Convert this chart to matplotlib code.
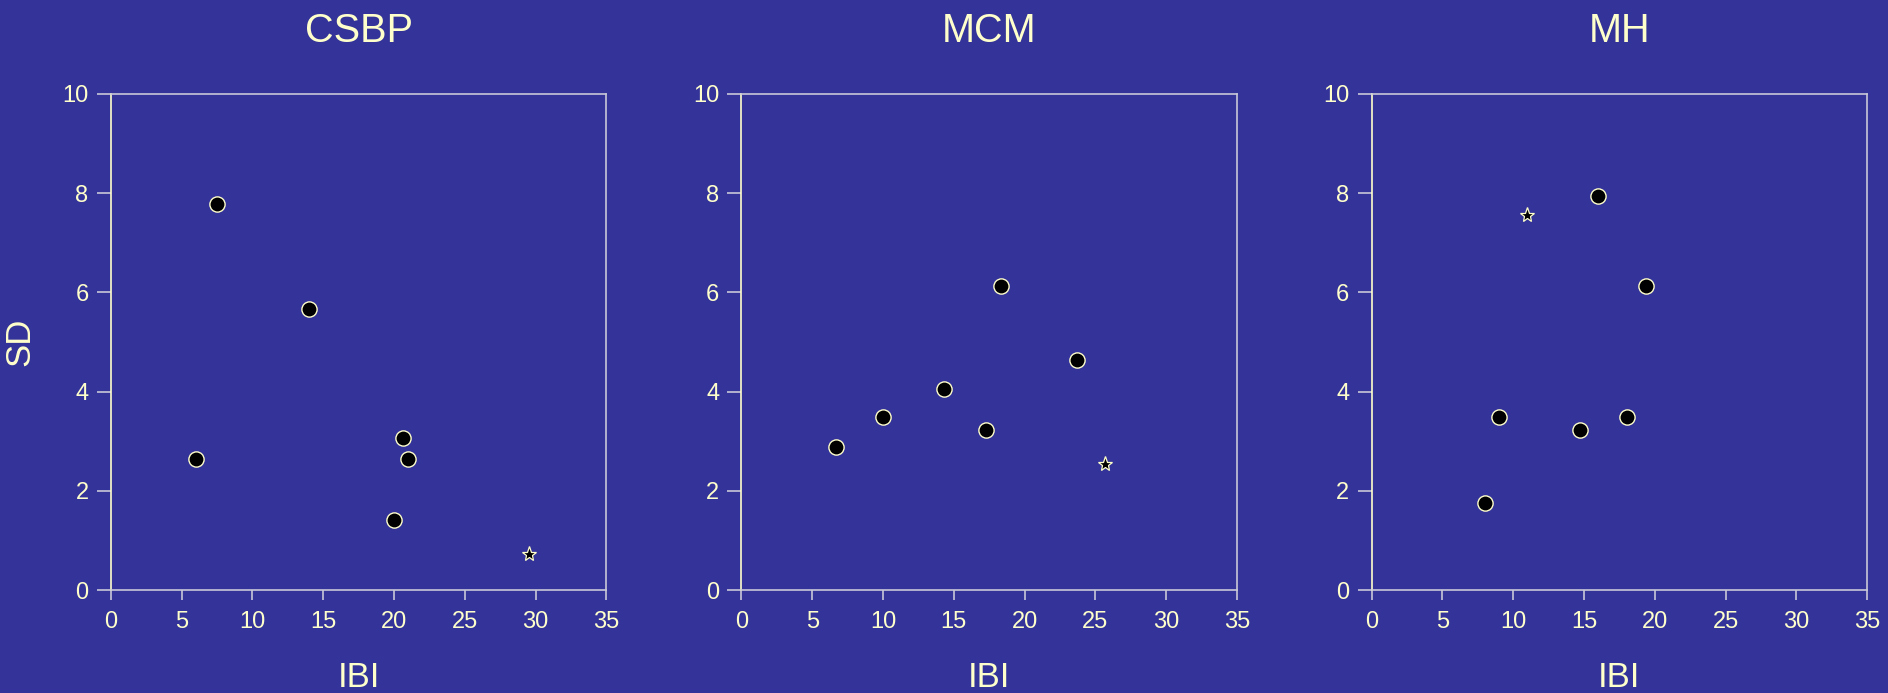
import matplotlib
matplotlib.use("Agg")
import matplotlib.pyplot as plt

# Dados (IBI x SD)
titles = ["CSBP", "MCM", "MH"]

csbp_ibi = [7.5, 14.0, 6.0, 20.6, 21.0, 20.0]
csbp_sd = [7.78, 5.67, 2.65, 3.06, 2.65, 1.42]
csbp_star = (29.5, 0.72)

mcm_ibi = [6.7, 10.0, 14.3, 17.3, 18.3, 23.7]
mcm_sd = [2.89, 3.48, 4.05, 3.23, 6.12, 4.63]
mcm_star = (25.65, 2.53)

mh_ibi = [8.0, 9.0, 14.7, 18.0, 16.0, 19.35]
mh_sd = [1.75, 3.48, 3.23, 3.48, 7.94, 6.12]
mh_star = (11.0, 7.55)

x_ticks = [0, 5, 10, 15, 20, 25, 30, 35]
y_ticks = [0, 2, 4, 6, 8, 10]

bg = "#333399"
txt = "#FFFFCC"
grey = "#C8C8D8"

plt.rcParams["font.family"] = ["Liberation Sans", "DejaVu Sans"]

fig = plt.figure(figsize=(18.88, 6.93), dpi=100, facecolor=bg)

panels = [
    (titles[0], csbp_ibi, csbp_sd, csbp_star, 0.0587),
    (titles[1], mcm_ibi, mcm_sd, mcm_star, 0.3927),
    (titles[2], mh_ibi, mh_sd, mh_star, 0.7265),
]

for i, (title, xs, ys, star, left) in enumerate(panels):
    ax = fig.add_axes([left, 0.1486, 0.2625, 0.716])
    ax.set_facecolor(bg)
    ax.scatter(xs, ys, s=120, c="black", edgecolors=txt, linewidths=1.0, zorder=3)
    ax.plot([star[0]], [star[1]], marker="*", markersize=11, color="black",
            markeredgecolor=txt, markeredgewidth=0.9, linestyle="none", zorder=3)
    ax.set_xlim(0, 35)
    ax.set_ylim(0, 10)
    ax.set_xticks(x_ticks)
    ax.set_yticks(y_ticks)
    for side in ["top", "right", "bottom"]:
        ax.spines[side].set_color(grey)
    ax.spines["left"].set_color(txt)
    for sp in ax.spines.values():
        sp.set_linewidth(1.2)
    ax.tick_params(axis="x", colors=grey, labelcolor=txt, length=7, width=1.2,
                   labelsize=17, pad=8)
    ax.tick_params(axis="y", colors=grey, labelcolor=txt, length=10, width=1.2,
                   labelsize=17, pad=6)
    ax.set_title(title, color=txt, fontsize=28.5, pad=37)
    ax.set_xlabel("IBI", color=txt, fontsize=25, labelpad=20)
    if i == 0:
        ax.set_ylabel("SD", color=txt, fontsize=25, labelpad=19)

fig.savefig("out.png", dpi=100, facecolor=bg)
